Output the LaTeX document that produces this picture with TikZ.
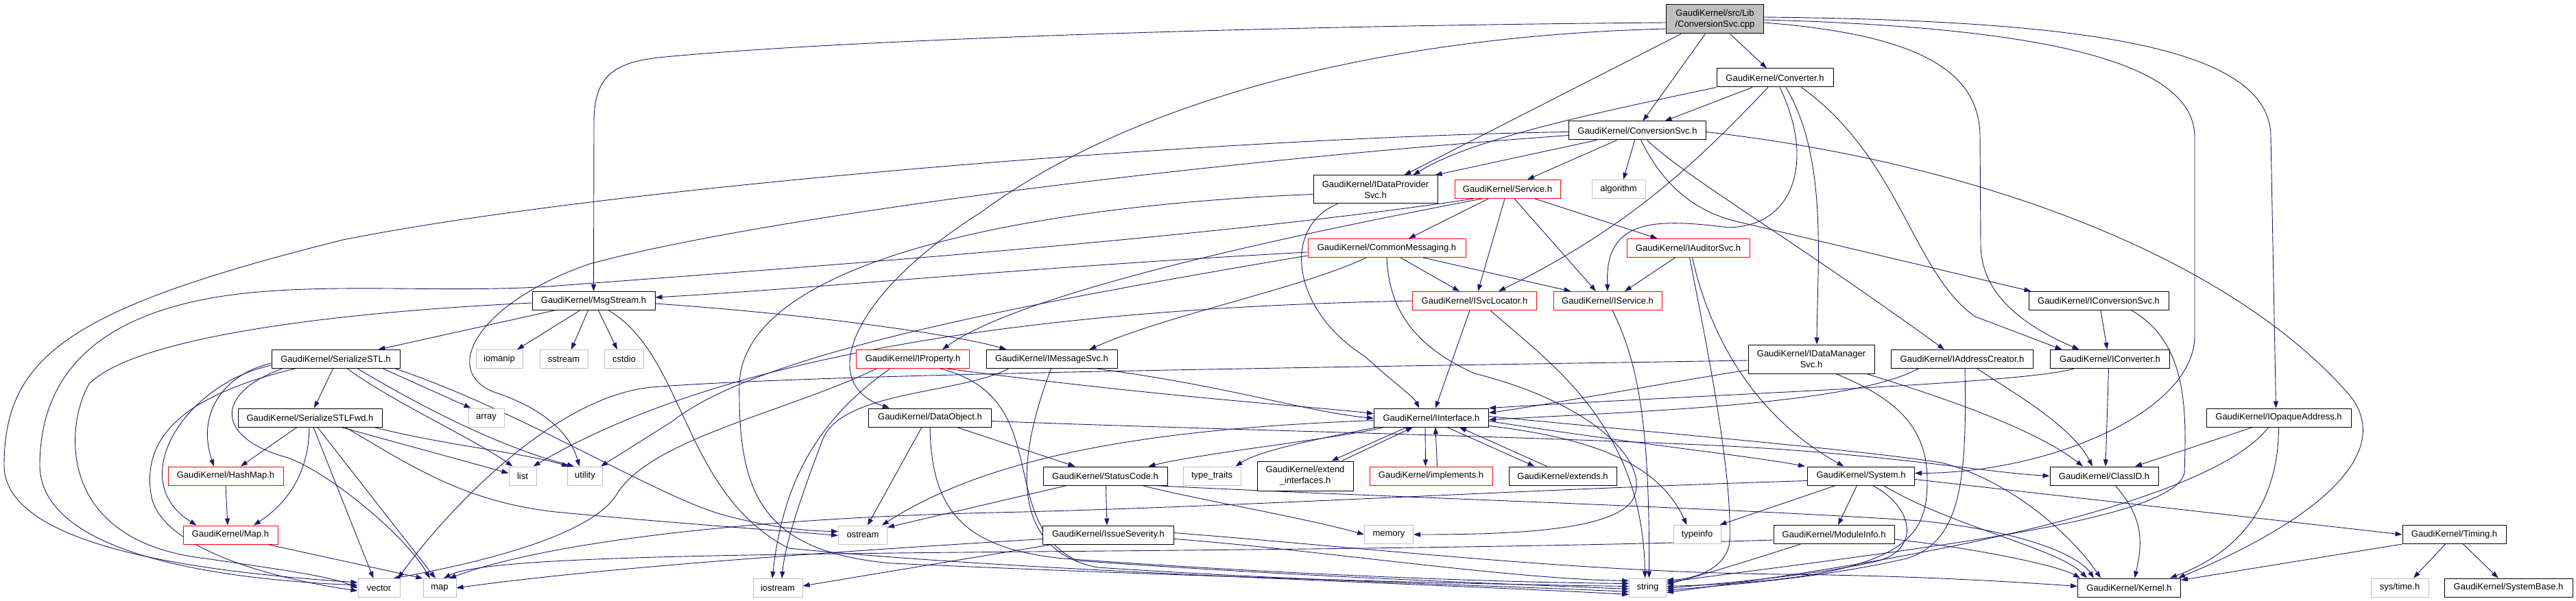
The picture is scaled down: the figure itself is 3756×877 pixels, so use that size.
\documentclass[tikz,border=0pt]{standalone}
\usepackage{fontspec}
\setmainfont{Liberation Sans}
\usetikzlibrary{arrows.meta,calc}
\pgfdeclarelayer{edgelayer}
\pgfsetlayers{edgelayer,main}
\definecolor{edgeblue}{HTML}{191970}
\definecolor{grey75}{HTML}{BFBFBF}
\begin{document}
\begin{tikzpicture}[x=1pt,y=-1pt,
  every node/.style={font=\fontsize{13}{16}\selectfont, inner sep=0pt, align=center, minimum height=27pt, fill=white, line width=1pt},
  nb/.style={draw=black},
  nr/.style={draw=red},
  ng/.style={draw=grey75},
  wd/.style={minimum width=#1pt},
  edg/.style={draw=edgeblue, line width=0.9pt, -{Triangle[length=10pt,width=7pt]}}]
\useasboundingbox (0,0) rectangle (3756,877);
% ---------------- nodes ----------------
\node[nb,fill=grey75,wd=142,minimum height=42pt] (root) at (2500.5,28) {GaudiKernel/src/Lib\\/ConversionSvc.cpp};
\node[nb,wd=170] (conv) at (2588,113.5) {GaudiKernel/Converter.h};
\node[nb,wd=200] (csvc) at (2387.5,190.5) {GaudiKernel/ConversionSvc.h};
\node[nb,wd=181,minimum height=41pt] (idp) at (2005.5,276.5) {GaudiKernel/IDataProvider\\Svc.h};
\node[nr,wd=154] (svc) at (2198,276) {GaudiKernel/Service.h};
\node[ng,wd=78] (algo) at (2360,276) {algorithm};
\node[nr,wd=230] (cmsg) at (2022,362) {GaudiKernel/CommonMessaging.h};
\node[nr,wd=179] (iaud) at (2461.5,362) {GaudiKernel/IAuditorSvc.h};
\node[nb,wd=179] (msg) at (865.5,439) {GaudiKernel/MsgStream.h};
\node[nr,wd=181] (isl) at (2150,439) {GaudiKernel/ISvcLocator.h};
\node[nr,wd=158] (isv) at (2344,439) {GaudiKernel/IService.h};
\node[nb,wd=204] (icsvc) at (3060,439) {GaudiKernel/IConversionSvc.h};
\node[nb,wd=187] (sstl) at (489.5,524) {GaudiKernel/SerializeSTL.h};
\node[ng,wd=68] (iomanip) at (728,524) {iomanip};
\node[ng,wd=70] (sstream) at (822,524) {sstream};
\node[ng,wd=57] (cstdio) at (910,524) {cstdio};
\node[nr,wd=165] (iprop) at (1331,524) {GaudiKernel/IProperty.h};
\node[nb,wd=191] (imsg) at (1533.5,524) {GaudiKernel/IMessageSvc.h};
\node[nb,wd=184,minimum height=42pt] (idm) at (2641,524) {GaudiKernel/IDataManager\\Svc.h};
\node[nb,wd=207] (iac) at (2861,524) {GaudiKernel/IAddressCreator.h};
\node[nb,wd=174] (icnv) at (3076.5,524) {GaudiKernel/IConverter.h};
\node[nb,wd=211] (ioa) at (3322.5,609.5) {GaudiKernel/IOpaqueAddress.h};
\node[nb,wd=210] (sfwd) at (452,609.5) {GaudiKernel/SerializeSTLFwd.h};
\node[ng,wd=52] (array) at (709,609.5) {array};
\node[nb,wd=179] (dobj) at (1356,609.5) {GaudiKernel/DataObject.h};
\node[nb,wd=167] (iint) at (2087,609.5) {GaudiKernel/IInterface.h};
\node[nr,wd=168] (hmap) at (329,694.5) {GaudiKernel/HashMap.h};
\node[ng,wd=40] (list) at (762,694.5) {list};
\node[ng,wd=51] (utility) at (853,694.5) {utility};
\node[nb,wd=181] (sc) at (1611.5,694.5) {GaudiKernel/StatusCode.h};
\node[ng,wd=84] (tt) at (1767,694.5) {type\_traits};
\node[nb,wd=140,minimum height=43pt] (eif) at (1903,694.5) {GaudiKernel/extend\\\_interfaces.h};
\node[nr,wd=179] (impl) at (2086.5,694.5) {GaudiKernel/implements.h};
\node[nb,wd=157] (ext) at (2278.5,694.5) {GaudiKernel/extends.h};
\node[nb,wd=156] (sys) at (2713.5,694.5) {GaudiKernel/System.h};
\node[nb,wd=158] (cid) at (3068,694.5) {GaudiKernel/ClassID.h};
\node[nr,wd=138] (maph) at (336,780.5) {GaudiKernel/Map.h};
\node[ng,wd=71] (ostream) at (1258,780.5) {ostream};
\node[nb,wd=191] (isev) at (1616,780.5) {GaudiKernel/IssueSeverity.h};
\node[ng,wd=71] (memory) at (2025,780) {memory};
\node[ng,wd=69] (typeinfo) at (2474.5,780) {typeinfo};
\node[nb,wd=176] (minfo) at (2674,780) {GaudiKernel/ModuleInfo.h};
\node[nb,wd=151] (timing) at (3578.5,780) {GaudiKernel/Timing.h};
\node[ng,wd=61] (vector) at (552.5,858) {vector};
\node[ng,wd=48] (map) at (641,858) {map};
\node[ng,wd=72] (iostream) at (1134,858) {iostream};
\node[ng,wd=54] (string) at (2402.5,857.5) {string};
\node[nb,wd=150] (kernel) at (3104.5,857.5) {GaudiKernel/Kernel.h};
\node[ng,wd=84] (systime) at (3499,857.5) {sys/time.h};
\node[nb,wd=187] (sysbase) at (3657.5,857.5) {GaudiKernel/SystemBase.h};
% ---------------- edges ----------------
\begin{pgfonlayer}{edgelayer}
\fill[white] (0,0) rectangle (3756,877);
% root
\draw[edg] ($(root.west)+(0,5)$) .. controls (1800,38) and (1200,60) .. (960,84) .. controls (890,92) and (866,115) .. (866,180) -- (msg.north);
\draw[edg] ($(root.west)+(0,14)$) .. controls (1950,55) and (1620,170) .. (1430,310) .. controls (1240,430) and (1190,560) .. ($(dobj.north west)+(31,0)$);
\draw[edg] ($(root.south west)+(22,0)$) -- ($(idp.north)+(42,0)$);
\draw[edg] ($(root.south)+(-14,0)$) -- ($(csvc.north)+(8,0)$);
\draw[edg] ($(root.south)+(22,0)$) -- ($(conv.north)+(-12,0)$);
\draw[edg] ($(root.east)+(0,5)$) .. controls (2790,50) and (2887,100) .. (2887,200) -- (2888,360) .. controls (2890,430) and (2950,475) .. ($(icnv.north)+(-45,0)$);
\draw[edg] ($(root.east)+(0,1)$) .. controls (2980,40) and (3200,90) .. (3200,200) -- (3200,490) .. controls (3200,600) and (2990,690) .. ($(sys.east)+(0,-4)$);
\draw[edg] ($(root.east)+(0,-3)$) .. controls (3050,30) and (3311,70) .. (3311,200) -- ($(ioa.north)+(-4,0)$);
% Converter.h
\draw[edg] ($(conv.south)+(-33,0)$) -- ($(csvc.north)+(40,0)$);
\draw[edg] (conv.south west) .. controls (2350,160) and (2150,200) .. ($(idp.north)+(55,0)$);
\draw[edg] ($(conv.south)+(-10,0)$) .. controls (2480,230) and (2380,330) .. ($(isl.north)+(35,0)$);
\draw[edg] ($(conv.south)+(7,0)$) .. controls (2645,230) and (2620,330) .. (2520,332) .. controls (2410,318) and (2340,320) .. (isv.north);
\draw[edg] ($(conv.south)+(16,0)$) .. controls (2665,230) and (2650,380) .. ($(idm.north)+(8,0)$);
\draw[edg] ($(conv.south east)+(-47,0)$) .. controls (2770,230) and (2790,400) .. (2880,462) -- ($(icnv.north)+(-70,0)$);
% ConversionSvc.h
\draw[edg] ($(csvc.west)+(0,2)$) .. controls (1800,200) and (900,270) .. (500,350) .. controls (100,450) and (6,520) .. (6,680) .. controls (8,800) and (300,835) .. ($(vector.west)+(0,-8)$);
\draw[edg] ($(csvc.west)+(0,7)$) .. controls (1700,240) and (1100,320) .. (860,385) .. controls (700,440) and (640,540) .. (720,572) .. controls (790,595) and (830,630) .. ($(utility.north west)+(18,0)$);
\draw[edg] ($(csvc.south west)+(41,0)$) -- ($(idp.north east)+(-4,0)$);
\draw[edg] ($(csvc.south)+(-30,0)$) -- ($(svc.north)+(29,0)$);
\draw[edg] ($(csvc.south)+(-4,0)$) -- ($(algo.north)+(7,0)$);
\draw[edg] ($(csvc.south)+(5,0)$) .. controls (2425,270) and (2470,310) .. (2540,325) -- ($(icsvc.north west)+(4,0)$);
\draw[edg] ($(csvc.south)+(14,0)$) .. controls (2460,260) and (2600,340) .. ($(iac.north west)+(78,0)$);
\draw[edg] ($(csvc.east)+(0,2)$) .. controls (2900,240) and (3250,380) .. (3420,570) .. controls (3495,650) and (3400,750) .. ($(kernel.north east)+(-4,0)$);
% Service.h
\draw[edg] ($(svc.south)+(-28,0)$) -- ($(cmsg.north)+(32,0)$);
\draw[edg] ($(svc.south)+(-4,0)$) -- ($(isl.north)+(5,0)$);
\draw[edg] ($(svc.south)+(10,0)$) -- ($(isv.north)+(-17,0)$);
\draw[edg] ($(svc.south)+(40,0)$) -- ($(iaud.north)+(-45,0)$);
\draw[edg] ($(svc.south)+(-37,0)$) .. controls (1950,330) and (1500,420) .. ($(iprop.north)+(43,0)$);
\draw[edg] ($(svc.south west)+(28,0)$) .. controls (1750,350) and (1100,395) .. (800,418) .. controls (650,428) and (480,412) .. (340,430) .. controls (150,455) and (58,540) .. (58,680) .. controls (60,790) and (250,842) .. ($(vector.west)+(0,-4)$);
% CommonMessaging.h
\draw[edg] ($(cmsg.west)+(0,6)$) .. controls (1500,390) and (1200,420) .. ($(msg.east)+(0,-5)$);
\draw[edg] ($(cmsg.west)+(0,11)$) .. controls (1450,450) and (1100,520) .. (980,615) -- ($(utility.north east)+(-3,0)$);
\draw[edg] ($(cmsg.south)+(20,0)$) -- ($(isl.north)+(-22,0)$);
\draw[edg] ($(cmsg.south)+(53,0)$) -- ($(isv.north west)+(26,0)$);
\draw[edg] ($(cmsg.south)+(-30,0)$) .. controls (1900,420) and (1700,460) .. ($(imsg.north)+(55,0)$);
\draw[edg] (cmsg.south) .. controls (2025,440) and (2050,500) .. (2150,545) .. controls (2330,590) and (2410,680) .. (2380,730) .. controls (2350,775) and (2200,780) .. (memory.east);
% ISvcLocator.h, IService.h, IAuditorSvc.h
\draw[edg] (isl.west) .. controls (1500,450) and (1050,520) .. ($(list.north east)+(-5,0)$);
\draw[edg] ($(isl.south)+(-7,0)$) -- ($(iint.north)+(6,0)$);
\draw[edg] ($(isl.south)+(23,0)$) .. controls (2260,530) and (2395,620) .. ($(string.north)+(-4,0)$);
\draw[edg] ($(isv.south)+(7,0)$) .. controls (2395,540) and (2405,650) .. ($(string.north)+(2,0)$);
\draw[edg] ($(iaud.south)+(-19,0)$) -- ($(isv.north)+(25,0)$);
\draw[edg] ($(iaud.south)+(6,0)$) .. controls (2500,520) and (2580,620) .. ($(sys.north)+(-25,0)$);
\draw[edg] ($(iaud.south)+(2,0)$) .. controls (2500,560) and (2525,700) .. (2522,790) .. controls (2518,830) and (2470,845) .. ($(string.east)+(0,-11)$);
% IDataProviderSvc.h
\draw[edg] ($(idp.west)+(0,7)$) .. controls (1500,300) and (1085,380) .. (1078,560) .. controls (1076,720) and (1110,805) .. (1300,822) .. controls (1700,840) and (2100,852) .. ($(string.west)+(0,-2)$);
\draw[edg] ($(idp.south)+(-55,0)$) .. controls (1870,330) and (1880,450) .. (1990,520) .. controls (2040,565) and (2062,580) .. ($(iint.north)+(-18,0)$);
% IDataManagerSvc.h
\draw[edg] ($(idm.west)+(0,16)$) .. controls (2420,560) and (2260,590) .. ($(iint.east)+(0,-7)$);
\draw[edg] ($(idm.west)+(0,2)$) .. controls (2000,535) and (1200,545) .. (950,565) .. controls (800,580) and (640,760) .. ($(vector.north east)+(-3,0)$);
\draw[edg] ($(idm.south)+(36,0)$) .. controls (2760,580) and (2810,620) .. (2810,700) .. controls (2810,780) and (2790,845) .. ($(string.east)+(0,-2)$);
\draw[edg] ($(idm.south east)+(-12,0)$) .. controls (2800,570) and (2960,620) .. ($(cid.north)+(-31,0)$);
% IAddressCreator.h
\draw[edg] ($(iac.south west)+(40,0)$) .. controls (2700,590) and (2400,600) .. ($(iint.east)+(0,3)$);
\draw[edg] ($(iac.south)+(22,0)$) .. controls (2930,570) and (3020,620) .. ($(cid.north)+(-17,0)$);
\draw[edg] ($(iac.south)+(4,0)$) .. controls (2868,700) and (2860,790) .. (2780,815) .. controls (2650,845) and (2500,855) .. ($(string.east)+(0,4)$);
% IConverter.h, IConversionSvc.h, IOpaqueAddress.h
\draw[edg] ($(icnv.south west)+(35,0)$) .. controls (2950,560) and (2500,575) .. (iint.north east);
\draw[edg] ($(icnv.south)+(-2,0)$) -- ($(cid.north)+(2,0)$);
\draw[edg] ($(icsvc.south)+(3,0)$) -- ($(icnv.north)+(-4,0)$);
\draw[edg] ($(icsvc.south)+(48,0)$) .. controls (3190,500) and (3188,600) .. (3185,690) .. controls (3170,760) and (2800,800) .. ($(string.east)+(0,-8)$);
\draw[edg] ($(ioa.south)+(-38,0)$) -- ($(cid.north)+(45,0)$);
\draw[edg] ($(ioa.south)+(-15,0)$) .. controls (3250,700) and (3000,790) .. ($(string.east)+(0,7)$);
\draw[edg] (ioa.south) .. controls (3322,720) and (3280,800) .. ($(kernel.north east)+(-16,0)$);
% ClassID.h, Timing.h
\draw[edg] ($(cid.south)+(16,0)$) .. controls (3130,760) and (3122,800) .. ($(kernel.north)+(8,0)$);
\draw[edg] (timing.south west) -- ($(kernel.north east)+(0,3)$);
\draw[edg] ($(timing.south)+(-13,0)$) -- ($(systime.north)+(20,0)$);
\draw[edg] ($(timing.south)+(13,0)$) -- ($(sysbase.north)+(-15,0)$);
% System.h
\draw[edg] ($(sys.south)+(-37,0)$) -- ($(typeinfo.north east)+(-2,0)$);
\draw[edg] ($(sys.south)+(-6,0)$) -- ($(minfo.north)+(6,0)$);
\draw[edg] ($(sys.south)+(17,0)$) .. controls (2790,740) and (2800,800) .. (2740,818) .. controls (2650,840) and (2500,852) .. ($(string.east)+(0,1)$);
\draw[edg] ($(sys.south east)+(-46,0)$) .. controls (2850,770) and (3000,800) .. ($(kernel.north west)+(14,0)$);
\draw[edg] ($(sys.east)+(0,5)$) -- (timing.west);
\draw[edg] ($(sys.west)+(0,7)$) .. controls (2200,715) and (1800,740) .. (1450,748) .. controls (1100,756) and (800,790) .. ($(map.north)+(14,0)$);
% ModuleInfo.h
\draw[edg] ($(minfo.south west)+(40,0)$) .. controls (2560,815) and (2480,840) .. ($(string.east)+(0,-5)$);
\draw[edg] ($(minfo.east)+(0,7)$) .. controls (2880,800) and (3000,825) .. ($(kernel.north west)+(4,0)$);
\draw[edg] ($(minfo.west)+(0,8)$) .. controls (2200,800) and (1700,803) .. (1400,806) .. controls (1000,810) and (700,815) .. ($(map.north)+(6,0)$);
% IssueSeverity.h
\draw[edg] ($(isev.west)+(0,6)$) .. controls (1300,800) and (900,825) .. (map.east);
\draw[edg] ($(isev.south west)+(14,0)$) -- ($(iostream.east)+(0,-3)$);
\draw[edg] ($(isev.east)+(0,6)$) .. controls (1900,800) and (2200,845) .. ($(string.west)+(0,-10)$);
\draw[edg] ($(isev.east)+(0,-3)$) .. controls (2000,800) and (2300,835) .. (2600,838) .. controls (2800,840) and (2950,850) .. ($(kernel.west)+(0,-2)$);
% StatusCode.h
\draw[edg] ($(sc.south west)+(35,0)$) -- ($(ostream.north east)+(0,3)$);
\draw[edg] ($(sc.south)+(1,0)$) -- ($(isev.north)+(-2,0)$);
\draw[edg] ($(sc.south east)+(-37,0)$) .. controls (1750,730) and (1900,755) .. (memory.west);
\draw[edg] ($(sc.south east)+(-20,0)$) .. controls (2000,725) and (2500,740) .. (2800,760) .. controls (2950,775) and (3030,810) .. ($(kernel.north west)+(24,0)$);
% DataObject.h
\draw[edg] ($(dobj.east)+(0,5)$) .. controls (1800,628) and (2200,636) .. (2500,650) .. controls (2750,662) and (2900,690) .. (cid.west);
\draw[edg] ($(dobj.south)+(39,0)$) -- ($(sc.north west)+(47,0)$);
\draw[edg] ($(dobj.south)+(-12,0)$) -- ($(ostream.north)+(7,0)$);
\draw[edg] (dobj.south) .. controls (1358,740) and (1400,800) .. (1550,815) .. controls (1900,840) and (2200,850) .. ($(string.west)+(0,-6)$);
% IProperty.h
\draw[edg] ($(iprop.south west)+(30,0)$) .. controls (1150,600) and (950,640) .. (900,720) .. controls (860,790) and (650,830) .. ($(vector.north east)+(-10,0)$);
\draw[edg] ($(iprop.south)+(-33,0)$) .. controls (1180,620) and (1140,720) .. ($(iostream.north)+(-8,0)$);
\draw[edg] ($(iprop.south)+(40,0)$) .. controls (1540,580) and (1450,760) .. (1570,818) .. controls (1900,842) and (2200,852) .. ($(string.west)+(0,2)$);
\draw[edg] ($(iprop.south east)+(-33,0)$) .. controls (1700,580) and (1900,592) .. ($(iint.west)+(0,-6)$);
% IMessageSvc.h
\draw[edg] ($(imsg.south east)+(-30,0)$) .. controls (1800,565) and (1900,600) .. ($(iint.west)+(0,1)$);
\draw[edg] ($(imsg.south)+(-1,0)$) .. controls (1490,650) and (1460,800) .. (1600,828) .. controls (1900,848) and (2200,855) .. ($(string.west)+(0,6)$);
\draw[edg] ($(imsg.south west)+(33,0)$) .. controls (1400,575) and (1230,570) .. (1200,640) .. controls (1170,720) and (1145,790) .. ($(iostream.north)+(6,0)$);
% MsgStream.h
\draw[edg] ($(msg.south west)+(33,0)$) -- ($(sstl.north east)+(-32,0)$);
\draw[edg] ($(msg.south)+(-20,0)$) -- ($(iomanip.north)+(26,0)$);
\draw[edg] ($(msg.south)+(-8,0)$) -- ($(sstream.north)+(11,0)$);
\draw[edg] ($(msg.south)+(7,0)$) -- ($(cstdio.north)+(-10,0)$);
\draw[edg] ($(msg.south)+(22,0)$) .. controls (1000,520) and (995,720) .. (1150,800) .. controls (1500,835) and (2100,852) .. ($(string.west)+(0,10)$);
\draw[edg] ($(msg.east)+(0,4)$) .. controls (1200,460) and (1400,490) .. ($(imsg.north west)+(30,0)$);
\draw[edg] ($(msg.west)+(0,3)$) .. controls (500,455) and (200,490) .. (130,560) .. controls (95,620) and (80,790) .. (300,815) .. controls (400,830) and (480,840) .. ($(vector.west)+(0,0)$);
% SerializeSTL.h
\draw[edg] ($(sstl.south)+(-4,0)$) -- ($(sfwd.north)+(6,0)$);
\draw[edg] ($(sstl.west)+(0,6)$) .. controls (330,545) and (285,600) .. ($(hmap.north)+(-17,0)$);
\draw[edg] ($(sstl.west)+(0,9)$) .. controls (270,560) and (180,700) .. ($(maph.north west)+(20,0)$);
\draw[edg] ($(sstl.south west)+(16,0)$) .. controls (310,575) and (315,640) .. (420,668) .. controls (480,690) and (590,780) .. ($(map.north)+(-14,0)$);
\draw[edg] ($(sstl.south west)+(34,0)$) .. controls (300,570) and (205,620) .. (220,720) .. controls (230,800) and (400,845) .. ($(vector.west)+(0,4)$);
\draw[edg] ($(sstl.south)+(17,0)$) .. controls (570,585) and (690,640) .. ($(list.north west)+(6,0)$);
\draw[edg] ($(sstl.south)+(32,0)$) .. controls (600,585) and (720,650) .. ($(utility.north west)+(10,0)$);
\draw[edg] ($(sstl.south east)+(-25,0)$) -- ($(array.north west)+(4,0)$);
\draw[edg] ($(sstl.south east)+(-7,0)$) .. controls (760,600) and (950,720) .. (1050,750) .. controls (1120,770) and (1180,775) .. ($(ostream.west)+(0,-5)$);
% SerializeSTLFwd.h
\draw[edg] ($(sfwd.south)+(-19,0)$) -- ($(hmap.north)+(22,0)$);
\draw[edg] ($(sfwd.south)+(-1,0)$) .. controls (450,700) and (410,740) .. ($(maph.north)+(34,0)$);
\draw[edg] ($(sfwd.south)+(5,0)$) -- ($(vector.north)+(-8,0)$);
\draw[edg] ($(sfwd.south)+(11,0)$) -- ($(map.north)+(-6,0)$);
\draw[edg] ($(sfwd.south east)+(-60,0)$) -- ($(list.west)+(0,-4)$);
\draw[edg] ($(sfwd.south east)+(-12,0)$) .. controls (650,650) and (760,660) .. ($(utility.north west)+(2,0)$);
\draw[edg] ($(sfwd.south east)+(-54,0)$) .. controls (600,680) and (680,735) .. (820,748) .. controls (1000,765) and (1150,775) .. ($(ostream.west)+(0,1)$);
% HashMap.h, Map.h
\draw[edg] (hmap.south) -- ($(maph.north)+(-4,0)$);
\draw[edg] ($(maph.south east)+(-15,0)$) -- (map.north west);
% IInterface.h and friends
\draw[edg] ($(iint.south)+(-36,0)$) -- ($(eif.north east)+(-32,0)$);
\draw[edg] ($(eif.north east)+(-17,0)$) -- ($(iint.south)+(-27,0)$);
\draw[edg] ($(iint.south)+(-9,0)$) -- ($(impl.north)+(-8,0)$);
\draw[edg] ($(impl.north)+(9,0)$) -- ($(iint.south)+(6,0)$);
\draw[edg] ($(iint.south)+(23,0)$) -- ($(ext.north west)+(38,0)$);
\draw[edg] ($(ext.north west)+(56,0)$) -- ($(iint.south)+(41,0)$);
\draw[edg] ($(iint.east)+(0,5)$) .. controls (2400,650) and (2550,665) .. ($(sys.north west)+(-3,0)$);
\draw[edg] ($(iint.south east)+(0,-2)$) .. controls (2330,640) and (2420,680) .. ($(typeinfo.north)+(-15,0)$);
\draw[edg] ($(iint.east)+(0,-2)$) .. controls (2400,630) and (2700,655) .. (2830,675) .. controls (2930,700) and (3020,780) .. ($(kernel.north west)+(34,0)$);
\draw[edg] ($(iint.south west)+(15,0)$) .. controls (1950,640) and (1760,660) .. ($(sc.north east)+(-28,0)$);
\draw[edg] ($(iint.south west)+(5,0)$) .. controls (1950,635) and (1840,655) .. ($(tt.north east)+(-8,0)$);
\draw[edg] ($(iint.west)+(0,4)$) .. controls (1700,625) and (1450,660) .. ($(ostream.north east)+(-8,0)$);
\end{pgfonlayer}
\end{tikzpicture}
\end{document}
